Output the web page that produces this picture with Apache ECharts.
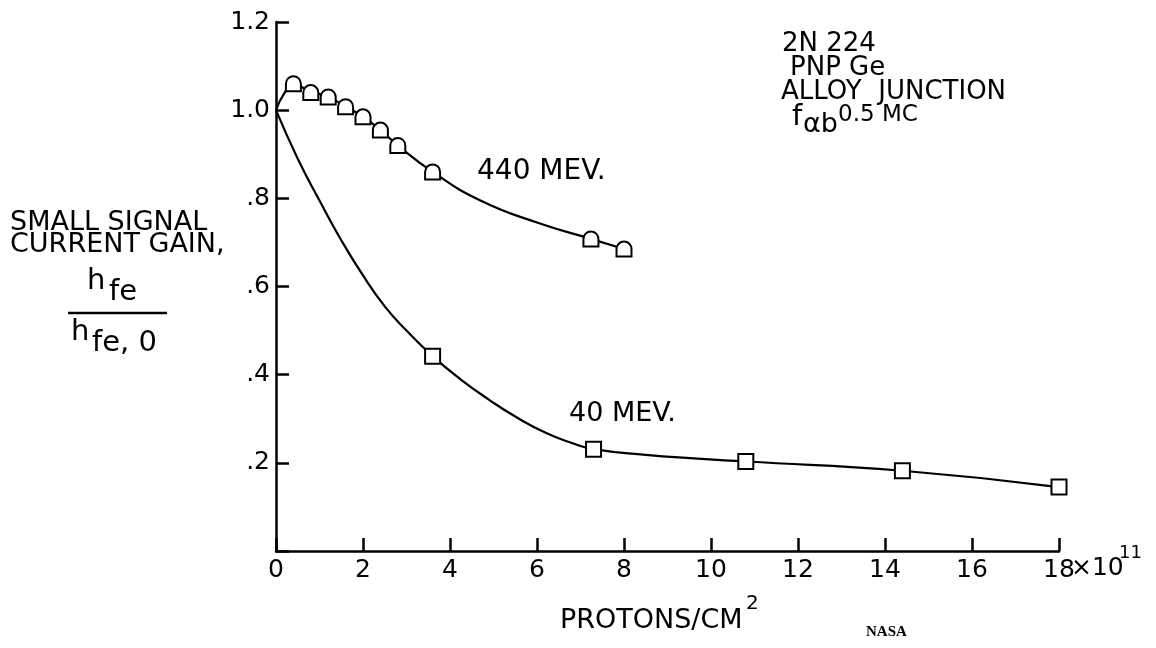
<!DOCTYPE html>
<html>
<head>
<meta charset="utf-8">
<script src="https://cdn.jsdelivr.net/npm/echarts@6/dist/echarts.min.js"></script>
<style>
  html, body { margin: 0; padding: 0; background: #fff; }
  #chart { width: 1156px; height: 648px; }
</style>
</head>
<body>
<div id="chart"></div>
<script>
// axis tick labels
const xTickLabels = ['0', '2', '4', '6', '8', '10', '12', '14', '16', '18'];
const yTickLabels = ['', '.2', '.4', '.6', '.8', '1.0', '1.2'];

// 440 MEV measured points (circles)
const p440X = [0.4, 0.8, 1.2, 1.6, 2.0, 2.4, 2.8, 3.6, 7.24, 8.0];
const p440Y = [1.06, 1.04, 1.03, 1.008, 0.985, 0.955, 0.92, 0.86, 0.708, 0.685];
// 440 MEV faired curve
const c440X = [0, 0.2, 0.4, 0.8, 1.2, 1.6, 2.0, 2.4, 2.8, 3.6, 4.7, 6.0, 7.24, 8.0];
const c440Y = [1.0, 1.04, 1.058, 1.042, 1.03, 1.008, 0.985, 0.955, 0.92, 0.86, 0.795, 0.745, 0.708, 0.685];

// 40 MEV measured points (squares)
const p40X = [3.6, 7.3, 10.8, 14.4, 18.0];
const p40Y = [0.442, 0.231, 0.203, 0.182, 0.145];
// 40 MEV faired curve
const c40X = [0, 0.5, 1.0, 1.5, 2.0, 2.5, 3.0, 3.6, 4.25, 4.9, 5.5, 6.2, 6.8, 7.3, 8.5, 9.6, 10.8, 14.4, 18.0];
const c40Y = [1.0, 0.89, 0.795, 0.705, 0.625, 0.555, 0.5, 0.442, 0.389, 0.343, 0.305, 0.268, 0.245, 0.231, 0.218, 0.21, 0.203, 0.182, 0.145];

const FONT = '"DejaVu Sans", sans-serif';
const zip = (xs, ys) => xs.map((x, i) => [x, ys[i]]);
const archSymbol = 'path://M0,14 L0,7 A7,7 0 0 1 14,7 L14,14 Z';

function txt(text, x, y, size) {
  return {
    type: 'text', x: x, y: y, z: 10,
    style: { text: text, font: size + 'px ' + FONT, fill: '#000', verticalAlign: 'top' }
  };
}

let chart = echarts.init(document.getElementById('chart'));
chart.setOption({
  animation: false,
  backgroundColor: '#fff',
  grid: { left: 276, right: 97, top: 22, bottom: 97, containLabel: false, outerBoundsMode: 'none' },
  xAxis: {
    type: 'value', min: 0, max: 18, interval: 2,
    splitLine: { show: false },
    axisLine: { lineStyle: { color: '#000', width: 2.5 } },
    axisTick: { inside: true, length: 13, lineStyle: { color: '#000', width: 2.5 } },
    axisLabel: {
      color: '#000', fontFamily: FONT, fontSize: 25, margin: 7,
      formatter: v => xTickLabels[Math.round(v / 2)]
    }
  },
  yAxis: {
    type: 'value', min: 0, max: 1.2, interval: 0.2,
    splitLine: { show: false },
    axisLine: { show: true, lineStyle: { color: '#000', width: 2.5 } },
    axisTick: { show: true, inside: true, length: 13, lineStyle: { color: '#000', width: 2.5 } },
    axisLabel: {
      color: '#000', fontFamily: FONT, fontSize: 25, margin: 6,
      formatter: v => yTickLabels[Math.round(v / 0.2)]
    }
  },
  series: [
    {
      name: '440 curve', type: 'line', data: zip(c440X, c440Y),
      smooth: 0.5, showSymbol: false, z: 2,
      lineStyle: { color: '#000', width: 2.2 }
    },
    {
      name: '40 curve', type: 'line', data: zip(c40X, c40Y),
      smooth: 0.5, showSymbol: false, z: 2,
      lineStyle: { color: '#000', width: 2.2 }
    },
    {
      name: '440 MEV.', type: 'scatter', data: zip(p440X, p440Y),
      symbol: archSymbol, symbolSize: [15, 15], z: 5,
      itemStyle: { color: '#fff', borderColor: '#000', borderWidth: 2, opacity: 1 }
    },
    {
      name: '40 MEV.', type: 'scatter', data: zip(p40X, p40Y),
      symbol: 'rect', symbolSize: 15, z: 5,
      itemStyle: { color: '#fff', borderColor: '#000', borderWidth: 2, opacity: 1 }
    }
  ],
  graphic: [
    // y axis title
    txt('SMALL SIGNAL', 10, 209, 27),
    txt('CURRENT GAIN,', 10, 231, 27),
    txt('h', 87, 267, 29),
    txt('fe', 109, 278, 29),
    { type: 'line', z: 10, shape: { x1: 68, y1: 313, x2: 167, y2: 313 }, style: { stroke: '#000', lineWidth: 2.5 } },
    txt('h', 71, 318, 29),
    txt('fe, 0', 92, 329, 29),
    // device notes
    txt('2N 224', 782, 31, 26),
    txt('PNP Ge', 790, 55, 26),
    txt('ALLOY  JUNCTION', 781, 79, 26),
    txt('f', 792, 103, 29),
    txt('\u03b1b', 803, 111, 27),
    txt('0.5 MC', 838, 104, 23),
    // curve labels
    txt('440 MEV.', 477, 158, 28),
    txt('40 MEV.', 569, 400, 27),
    // x axis title and units
    txt('\u00d710', 1071, 556, 25),
    txt('11', 1119, 544, 18),
    txt('PROTONS/CM', 560, 607, 27),
    txt('2', 746, 594, 20),
    {
      type: 'text', x: 866, y: 625, z: 10,
      style: { text: 'NASA', font: 'bold 15px "Liberation Serif", serif', fill: '#000', verticalAlign: 'top' }
    }
  ]
});
</script>
</body>
</html>
